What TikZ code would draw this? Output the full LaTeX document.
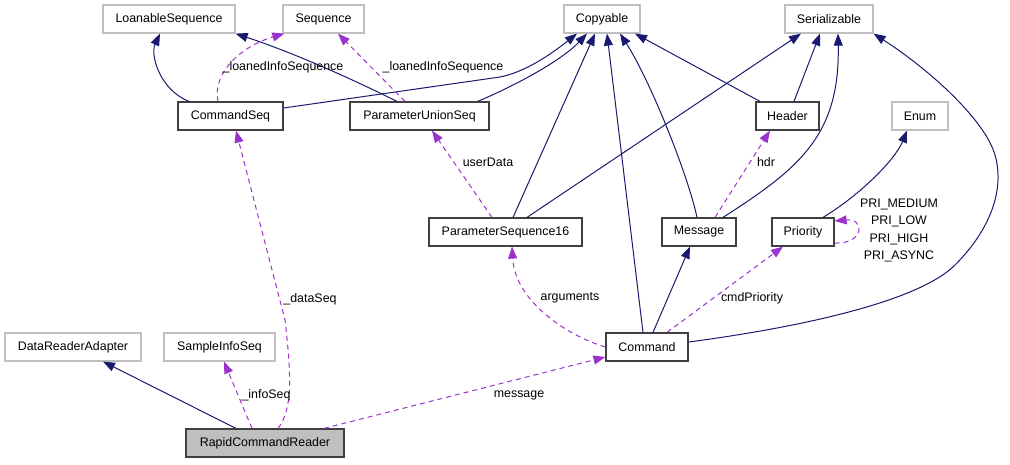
\documentclass[tikz,border=0pt]{standalone}
\usepackage{fontspec}
\setmainfont{Liberation Sans}
\usetikzlibrary{arrows.meta,calc}

\definecolor{inhblue}{RGB}{25,25,112}
\definecolor{usepurple}{RGB}{154,50,205}
\definecolor{extgray}{RGB}{191,191,191}
\definecolor{docgray}{RGB}{64,64,64}
\def\lblfont{\fontsize{12.4}{17.5}\selectfont}

\tikzset{
	cls/.style={draw=docgray, line width=1.2pt, minimum height=28pt, inner sep=0pt, font=\lblfont},
	extcls/.style={cls, draw=extgray},
	inh/.style={draw=inhblue, line width=1pt, -{Triangle[length=12pt,width=9pt]}},
	uses/.style={draw=usepurple, line width=1pt, dash pattern=on 5pt off 4pt, -{Triangle[length=12pt,width=9pt]}},
	lbl/.style={font=\lblfont, inner sep=0pt},
}

\begin{document}
\begin{tikzpicture}[x=1pt, y=-1pt]
			%%%%% START %%%%%
			\useasboundingbox (0,0) rectangle (1010,464);
			
			\node[extcls, minimum width=132pt] (loanseq) at (169,19) {LoanableSequence};
			\node[extcls, minimum width=81pt] (seq) at (323.5,19) {Sequence};
			\node[extcls, minimum width=76pt] (copyable) at (602,19) {Copyable};
			\node[extcls, minimum width=88pt] (serial) at (829,19) {Serializable};
			
			\node[cls, minimum width=105pt] (cmdseq) at (230.5,116) {CommandSeq};
			\node[cls, minimum width=139pt] (unionseq) at (419.5,116) {ParameterUnionSeq};
			\node[cls, minimum width=63pt] (header) at (787.5,116) {Header};
			\node[extcls, minimum width=56pt] (enum) at (920,116) {Enum};
			
			\node[cls, minimum width=153pt] (pseq16) at (505.5,232) {ParameterSequence16};
			\node[cls, minimum width=74pt] (message) at (699,232) {Message};
			\node[cls, minimum width=62pt] (priority) at (803,232) {Priority};
			
			\node[cls, minimum width=82pt] (command) at (647,347) {Command};
			\node[extcls, minimum width=136pt] (adapter) at (73,347) {DataReaderAdapter};
			\node[extcls, minimum width=111pt] (infoseq) at (219.5,347) {SampleInfoSeq};
			
			\node[cls, fill=extgray, minimum width=158pt] (reader) at (265,443) {RapidCommandReader};
			
			% base classes
			\draw[inh] ([xshift=-41.5pt]cmdseq.north) .. controls (160,90) and (150,55) .. ([xshift=-9pt]loanseq.south);
			\draw[inh] ([xshift=-22.5pt]unionseq.north) .. controls (360,83) and (300,55) .. (loanseq.south east);
			\draw[inh] ([yshift=8pt]cmdseq.east) -- (500,77) .. controls (525,72) and (550,55) .. ([xshift=-25pt]copyable.south);
			\draw[inh] ([xshift=-12pt]unionseq.north east) .. controls (510,88) and (560,62) .. ([xshift=-15pt]copyable.south);
			\draw[inh] ([xshift=7.5pt]pseq16.north) -- ([xshift=-7pt]copyable.south);
			\draw[inh] ([xshift=21.5pt]pseq16.north) -- ([xshift=-28pt]serial.south);
			\draw[inh] ([xshift=-4pt]command.north) -- ([xshift=5pt]copyable.south);
			\draw[inh] ([xshift=-2pt]message.north) .. controls (688,175) and (650,80) .. ([xshift=18pt]copyable.south);
			\draw[inh] ([xshift=-27.5pt]header.north) -- ([xshift=33pt]copyable.south);
			\draw[inh] ([xshift=6.5pt]header.north) -- ([xshift=-9pt]serial.south);
			\draw[inh] ([xshift=24pt]message.north) .. controls (800,168) and (840,135) .. ([xshift=9pt]serial.south);
			\draw[inh] ([yshift=5pt]command.east) .. controls (780,330) and (915,305) .. (955,265) .. controls (990,230) and (1005,190) .. (995,155) .. controls (985,120) and (930,70) .. (serial.south east);
			\draw[inh] ([xshift=20pt]priority.north) .. controls (860,195) and (895,160) .. ([xshift=-13pt]enum.south);
			\draw[inh] ([xshift=6pt]command.north) -- ([xshift=-9pt]message.south);
			\draw[inh] ([xshift=-29pt]reader.north) -- ([xshift=30pt]adapter.south);
			
			% members
			\draw[uses] ([xshift=-12.5pt]cmdseq.north) .. controls (212,70) and (245,45) .. ([xshift=2pt]seq.south west);
			\draw[uses] ([xshift=-14.5pt]unionseq.north) -- ([xshift=14.5pt]seq.south);
			\draw[uses] ([xshift=-13.5pt]pseq16.north) -- ([xshift=12.5pt]unionseq.south);
			\draw[uses] ([xshift=16pt]message.north) -- ([xshift=-17.5pt]header.south);
			\draw[uses] (command.west) .. controls (565,335) and (515,300) .. ([xshift=6.5pt]pseq16.south);
			\draw[uses] ([xshift=20pt]command.north) -- ([xshift=-20pt]priority.south);
			\draw[uses] ([yshift=-11pt]priority.east) .. controls (865,244) and (865,218) .. ([yshift=11pt]priority.east);
			\draw[uses] ([xshift=-13pt]reader.north) -- ([xshift=4.5pt]infoseq.south);
			\draw[uses] ([xshift=13pt]reader.north) .. controls (292,410) and (292,380) .. (285,320) -- ([xshift=5.5pt]cmdseq.south);
			\draw[uses] ([xshift=59pt]reader.north) -- ([yshift=-10pt]command.west);
			
			\node[lbl] (loanlbl1) at (283,67) {\_loanedInfoSequence};
			\node[lbl] (loanlbl2) at (443,67) {\_loanedInfoSequence};
			\node[lbl] (userlbl) at (488,162) {userData};
			\node[lbl] (hdrlbl) at (766,162) {hdr};
			\node[lbl] (datalbl) at (310,299) {\_dataSeq};
			\node[lbl] (arglbl) at (570,298) {arguments};
			\node[lbl] (prilbl) at (752,298) {cmdPriority};
			\node[lbl] (infolbl) at (266,395) {\_infoSeq};
			\node[lbl] (msglbl) at (519,395) {message};
			\node[lbl, align=center] (enumlbl) at (899,230.5) {PRI\_MEDIUM\\PRI\_LOW\\PRI\_HIGH\\PRI\_ASYNC};
			
			%%%%% END %%%%%
		\end{tikzpicture}
\end{document}
